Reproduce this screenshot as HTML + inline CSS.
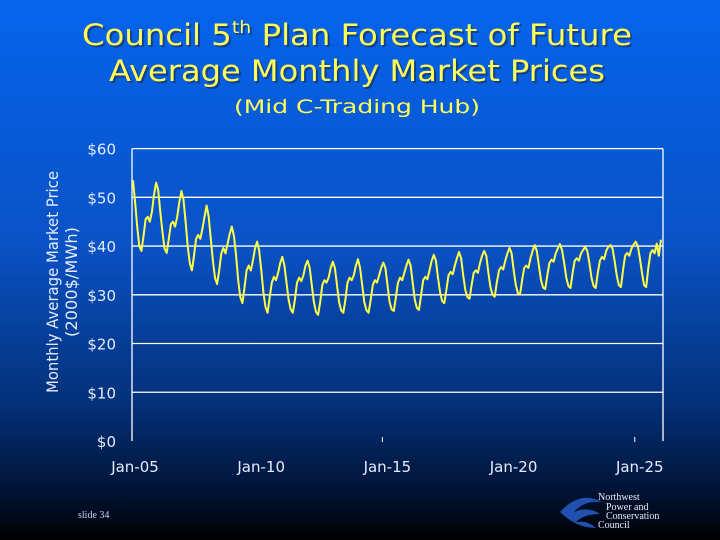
<!DOCTYPE html>
<html><head><meta charset="utf-8"><style>
html,body{margin:0;padding:0;width:720px;height:540px;overflow:hidden;background:#000}
svg{display:block;font-family:"DejaVu Sans","Liberation Sans",sans-serif}
</style></head><body>
<svg width="720" height="540" viewBox="0 0 720 540">
<defs>
<linearGradient id="bg" x1="0" y1="0" x2="0" y2="1">
<stop offset="0" stop-color="#0564ec"/>
<stop offset="0.45" stop-color="#0a52c6"/>
<stop offset="0.75" stop-color="#033078"/>
<stop offset="0.9" stop-color="#01153a"/>
<stop offset="1" stop-color="#000000"/>
</linearGradient>
</defs>
<rect width="720" height="540" fill="url(#bg)"/>
<g fill="#ffff55" font-size="29" text-anchor="middle">
<text x="359" y="47" fill="#1a2a50" opacity="0.6" textLength="550" lengthAdjust="spacingAndGlyphs">Council 5<tspan font-size="17" dy="-12">th</tspan><tspan dy="12"> Plan Forecast of Future</tspan></text>
<text x="357" y="45" textLength="550" lengthAdjust="spacingAndGlyphs">Council 5<tspan font-size="17" dy="-12">th</tspan><tspan dy="12"> Plan Forecast of Future</tspan></text>
<text x="359" y="83" fill="#1a2a50" opacity="0.6" textLength="496" lengthAdjust="spacingAndGlyphs">Average Monthly Market Prices</text>
<text x="357" y="81" textLength="496" lengthAdjust="spacingAndGlyphs">Average Monthly Market Prices</text>
</g>
<text x="357" y="113" fill="#ffff55" font-size="19" text-anchor="middle" textLength="246" lengthAdjust="spacingAndGlyphs">(Mid C-Trading Hub)</text>
<g fill="#e6ecff" font-size="16" text-anchor="middle">
<text transform="translate(58,282) rotate(-90)" textLength="222" lengthAdjust="spacingAndGlyphs">Monthly Average Market Price</text>
<text transform="translate(77,282) rotate(-90)" textLength="110" lengthAdjust="spacingAndGlyphs">(2000$/MWh)</text>
</g>
<g id="chart"></g>
<text x="78" y="518" fill="#c8d4ff" font-size="10" font-family="Liberation Serif,serif">slide 34</text>
<g>
<path d="M560 512 q20 -22 42 -10 q-18 -2 -28 10 q14 -6 26 2 q-16 0 -24 8 q12 -2 20 6 q-20 0 -36 -16z" fill="#2050b0"/>
<g fill="#e8ecff" font-family="Liberation Serif,serif" font-size="10">
<text x="598" y="500">Northwest</text>
<text x="606" y="510">Power and</text>
<text x="606" y="519">Conservation</text>
<text x="598" y="528">Council</text>
</g>
</g>
</svg>
<script>
const yTicks=[0,10,20,30,40,50,60];
const yTickLabels=["$0","$10","$20","$30","$40","$50","$60"];
const xTickMonths=[0,60,120,180,240];
const xTickLabels=["Jan-05","Jan-10","Jan-15","Jan-20","Jan-25"];
const prices=[
53.5,49,44,40,39,42,45.5,46,45,47,50.5,53,
51.5,47,43,39.5,38.6,41.5,44.5,45,44,46,49,51.3,
49.5,45,40,36.5,35,38,41.5,42.3,41.5,43.5,46,48.3,
46,41.5,37,33.5,32.2,35,38.5,39.6,38.5,40.5,42.5,44,
42,38,33,29.5,28.3,31.5,35,36,35,37,39.5,40.9,
39,35,30.5,27.5,26.3,29.5,32.5,33.7,33,34.5,36.5,37.8,
36,32.5,29,27,26.3,29,32.5,33.5,32.8,34,36,37,
35.5,32,28.5,26.5,25.9,28.5,32,33,32.5,33.5,35.5,36.8,
35.5,32,28.5,26.8,26.3,29,32.5,33.5,33,34,36,37.3,
35.5,32,28.5,26.8,26.3,29,32,33,32.5,34,35.5,36.6,
35.5,32,28.5,27,26.7,29.5,32.5,33.5,33,34.5,36,37.2,
36,32.5,29,27.3,26.9,30,33,33.7,33.2,35,37,38.2,
37,33.5,30.5,28.7,28.3,31,34,34.7,34.2,36,37.5,38.8,
37.5,34,31,29.5,29.2,32,34.5,35,34.5,36.5,38,39,
38,34.5,31.5,30,29.6,32.5,35,35.7,35.2,37,38.5,39.6,
38.5,35,32,30.3,30,33,35.5,36,35.5,37.5,39,40.2,
39,36,33,31.5,31.2,34,36.5,37.2,36.8,38.5,39.5,40.4,
39.2,36.5,33.5,31.8,31.4,34.5,37,37.5,37,38.5,39.2,39.8,
39,36.5,33.5,31.8,31.4,34.5,37,37.8,37.3,39,39.8,40.2,
39.5,37,34,32,31.6,35,38,38.6,38,39.5,40.3,40.9,
40,37.5,34.5,32,31.6,35.5,38.5,39.2,38.5,40.5,38,41.3
];
const NS="http://www.w3.org/2000/svg";
const L=132,R=663,T=148.6,B=441;
function xs(m){return 133+m*(530/252);}
function ys(v){return B-(v/60)*(B-T);}
const g=document.getElementById('chart');
function mk(tag,attrs){const e=document.createElementNS(NS,tag);for(const k in attrs)e.setAttribute(k,attrs[k]);g.appendChild(e);return e;}
yTicks.forEach((v,i)=>{
  if(v>0){const ln=mk('line',{x1:L,x2:R,y1:ys(v),y2:ys(v),stroke:'#ffffff','stroke-width':1.3});
  
  }
  const t=mk('text',{x:116,y:ys(v)+6,fill:'#e6ecff','font-size':15,'text-anchor':'end'});
  t.textContent=yTickLabels[i];
  
  
});
const la=mk('line',{x1:L,x2:L,y1:T,y2:B,stroke:'#ffffff','stroke-width':1.3});


const ra=mk('line',{x1:R,x2:R,y1:T,y2:B,stroke:'#ffffff','stroke-width':1.3});


xTickMonths.forEach((m,i)=>{
  if(i===2||i===4){const tk=mk('line',{x1:xs(m)-3,x2:xs(m)-3,y1:B-4,y2:B+1,stroke:'#ffffff','stroke-width':1});
  
  }
  const t=mk('text',{x:xs(m)+2,y:472,fill:'#e6ecff','font-size':15,'text-anchor':'middle'});
  t.textContent=xTickLabels[i];
  
  
});
const pts=prices.map((v,i)=>xs(i).toFixed(1)+','+ys(v).toFixed(1)).join(' ');
const pl=mk('polyline',{points:pts,fill:'none',stroke:'#ffff44','stroke-width':2,'stroke-linejoin':'round'});


</script>
</body></html>
